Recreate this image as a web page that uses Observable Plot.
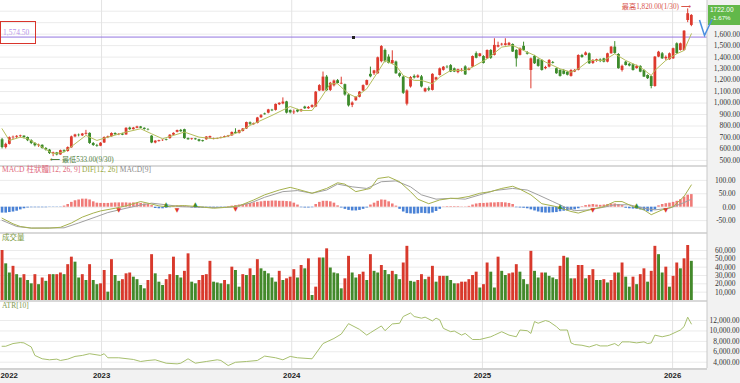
<!DOCTYPE html>
<html>
<head>
<meta charset="utf-8">
<script src="https://cdn.jsdelivr.net/npm/d3@7"></script>
<script src="https://cdn.jsdelivr.net/npm/@observablehq/plot@0.6"></script>
<style>
html, body { margin:0; padding:0; background:#fff; overflow:hidden; }
#wrap { position:relative; width:740px; height:383px; overflow:hidden; }
.bg { position:absolute; background:#f2f2f2; }
#charts { position:absolute; left:0; top:0; width:740px; }
#charts svg { display:block; }
.lbl { position:absolute; font-family:"Liberation Serif","Noto Sans CJK TC",serif; font-size:7.5px; line-height:1; white-space:nowrap; }
</style>
</head>
<body>
<div id="wrap">
  <div class="bg" style="left:707px;top:0;width:33px;height:383px"></div>
  <div class="bg" style="left:0;top:368px;width:740px;height:15px"></div>
  <div id="charts"></div>
  <div id="overlay"></div>
</div>
<script>
// ---------- weekly candles (first week ending 2022-06-24) ----------
const open = [
680,612,640,698,702,708,712,700,672,648, 628,632,604,590,560,566,548,585,578,610,
705,720,714,728,736,648,630,624,652,698, 706,735,724,730,722,782,768,780,792,780,
770,712,652,664,672,682,690,720,745,762, 768,690,682,688,680,672,680,696,684,686,
692,700,706,714,745,735,752,774,828,812, 822,872,905,912,938,936,985,992,1010,935,
915,938,925,965,950,962,965,1105,1105,1226, 1110,1150,1195,1165,1160,1070,980,1020,1050,1105,
1155,1250,1255,1255,1360,1458,1400,1343,1357,1255, 1226,990,1140,1232,1220,1228,1098,1125,1110,1200,
1240,1285,1312,1326,1298,1265,1275,1315,1285,1313, 1430,1405,1405,1385,1458,1415,1487,1506,1502,1502,
1510,1458,1415,1494,1436,1284,1406,1377,1371,1299, 1313,1352,1299,1284,1280,1268,1232,1270,1284,1414,
1415,1429,1345,1365,1375,1385,1356,1429,1487,1423, 1284,1356,1338,1333,1300,1319,1284,1240,1230,1144,
1400,1429,1385,1377,1385,1516,1458,1458,1719,1676];
const high = [
692,650,705,712,716,720,714,704,680,656, 642,636,612,596,572,570,590,592,618,712,
728,730,735,762,740,656,640,655,705,712, 740,740,734,736,785,790,788,798,796,784,
776,716,672,676,680,686,724,740,764,770, 772,696,692,692,684,676,708,712,694,694,
704,712,718,748,776,764,778,834,835,826, 875,900,912,945,945,992,1002,1045,1015,940,
940,945,945,972,970,985,1100,1160,1270,1240, 1180,1200,1205,1225,1165,1080,1010,1055,1100,1158,
1200,1313,1285,1400,1500,1470,1420,1455,1365,1262, 1235,1115,1230,1245,1245,1240,1130,1140,1255,1225,
1305,1318,1325,1335,1305,1295,1300,1325,1305,1410, 1445,1432,1412,1462,1465,1560,1530,1520,1560,1528,
1515,1465,1480,1530,1448,1392,1415,1385,1378,1320, 1378,1362,1305,1290,1292,1275,1290,1292,1420,1424,
1445,1436,1378,1382,1385,1390,1434,1492,1535,1430, 1330,1362,1345,1340,1330,1325,1290,1246,1236,1405,
1450,1440,1410,1436,1478,1524,1522,1630,1820,1770];
const low = [
600,600,635,680,690,695,688,664,638,618, 614,598,582,552,533,540,545,568,572,606,
698,705,708,720,640,622,615,620,648,690, 702,718,716,716,720,762,765,776,776,764,
758,646,645,660,666,670,686,714,740,745, 684,676,676,676,660,660,676,690,680,682,
688,698,700,710,730,730,748,770,805,806, 818,866,895,906,925,930,978,985,905,905,
900,915,920,945,945,955,960,1100,1100,1100, 1100,1140,1165,1160,1060,965,960,1015,1045,1100,
1150,1220,1240,1250,1350,1350,1340,1335,1250,1220, 1075,975,1130,1210,1215,1132,1090,1100,1105,1195,
1235,1278,1300,1265,1265,1255,1270,1240,1280,1308, 1385,1400,1340,1380,1380,1410,1480,1496,1496,1495,
1440,1313,1410,1452,1418,1124,1336,1312,1278,1290, 1306,1340,1250,1226,1245,1236,1226,1265,1280,1390,
1410,1336,1336,1355,1352,1350,1350,1425,1425,1295, 1270,1322,1315,1278,1295,1264,1222,1205,1124,1138,
1395,1380,1370,1372,1380,1425,1452,1452,1700,1665];
const close = [
612,640,698,702,710,714,700,672,648,628, 634,604,590,560,566,548,585,575,612,705,
722,716,730,736,648,630,624,650,700,706, 735,724,728,720,780,768,782,792,780,770,
766,652,668,672,676,676,720,736,760,750, 690,680,688,680,666,664,704,708,690,690,
700,708,714,744,735,760,774,830,815,822, 870,890,898,940,932,988,998,1008,912,915,
922,922,940,950,962,978,1095,1152,1226,1108, 1172,1192,1170,1172,1070,975,1000,1050,1095,1152,
1196,1228,1280,1394,1492,1360,1345,1370,1255,1232, 1085,1105,1222,1218,1236,1140,1124,1112,1250,1220,
1298,1312,1308,1270,1270,1290,1285,1245,1298,1405, 1390,1428,1345,1458,1390,1502,1500,1512,1516,1520,
1444,1385,1473,1458,1425,1385,1342,1319,1284,1310, 1371,1345,1255,1232,1250,1242,1284,1284,1414,1396,
1436,1342,1371,1377,1362,1356,1429,1487,1432,1299, 1320,1327,1322,1284,1318,1269,1226,1212,1144,1400,
1443,1385,1398,1429,1473,1430,1516,1626,1778,1763];

// 10-week moving average, read at sampled weeks
const maWeek  = [0,2,5,7,11,14,17,20,23,26,29,34,38,41,44,47,50,54,58,61,65,68,74,79,82,85,87,90,92,95,97,100,103,105,108,110,113,115,118,120,123,127,129,133,137,140,143,146,149,153,156,158,161,165,168,171,175,178,179,182,185,187,189];
const maValue = [776,674,703,689,616,558,572,645,718,674,703,747,776,732,689,718,747,703,689,703,747,805,892,970,935,935,1022,1168,1168,1081,1051,1124,1269,1371,1327,1240,1197,1197,1168,1226,1284,1284,1313,1385,1487,1502,1458,1415,1357,1298,1269,1298,1371,1371,1429,1371,1313,1240,1284,1371,1429,1458,1603];

// ---------- MACD ----------
const macdHist = [
-22,-22,-20,-18,-15,-10,-6,-3,-2,-2, -2,-2,-2,-1,-1,-1,-1,4,10,18,
24,27,30,30,27,20,15,14,14,14, 15,16,16,16,16,15,16,15,14,12,
10,6,-5,-6,-6,-4,-2,3,5,5, 4,2,-3,-4,-4,-5,-5,-4,-4,-3,
-2,-1,2,4,6,8,10,12,14,16, 18,20,22,22,23,23,22,22,21,20,
15,8,-2,-3,-3,-2,10,18,22,22, 20,15,5,-3,-8,-12,-14,-14,-12,-8,
-3,8,15,22,27,26,20,12,4,-8, -18,-24,-25,-26,-25,-23,-24,-25,-22,-16,
-8,1,2,2,2,2,1,1,3,8, 12,14,14,15,16,16,17,17,16,14,
10,-2,-3,-4,-6,-10,-14,-18,-21,-22, -22,-21,-20,-17,-15,-14,-12,-10,-6,2,
6,8,10,8,7,8,10,12,12,10, 6,-4,-6,-7,-8,-10,-13,-17,-18,-10,
5,10,13,15,18,22,28,38,45,47];
const difWeek  = [0,3,5,8,13,16,19,22,25,27,31,34,38,40,43,45,48,50,54,58,61,65,69,72,76,79,81,85,89,92,94,97,100,101,103,106,109,112,114,117,120,123,125,128,131,134,137,140,142,145,148,152,156,158,161,165,168,170,173,176,178,181,184,187,189];
const difValue = [-41,-62,-72,-78,-78,-75,-59,-37,-22,-14,-4,5,21,15,5,2,5,6,2,-4,-1,5,27,46,64,74,67,52,70,91,86,58,67,70,107,113,95,58,30,13,27,33,33,40,52,58,70,78,67,46,13,2,-16,-22,-10,2,21,21,2,-10,-28,-10,2,40,83];
const sigWeek  = [0,4,8,17,21,26,29,34,38,41,45,49,54,59,63,68,72,77,81,85,89,92,96,100,104,108,112,115,119,123,127,131,135,140,144,147,151,155,157,161,165,168,172,176,179,183,187,189];
const sigValue = [-49,-72,-78,-77,-59,-35,-20,-4,8,15,9,2,0,-1,0,15,37,58,62,52,64,86,76,70,95,98,76,46,30,33,30,46,62,70,64,46,21,-4,-13,-10,0,9,9,-4,-10,-4,17,30];
const buyWeek  = [45,53,153,174];
const buyValue = [11,12,5,9];
const sellWeek  = [32,48,64,162,182];
const sellValue = [-12,-12,-8,-10,-10];

// ---------- volume ----------
const volume = [
60000,44000,33000,41000,31000,27000,31000,24000,20000,31000, 19000,27000,23000,31000,31000,31000,33000,31000,43000,52000,
46000,27000,31000,24000,43000,24000,19000,20000,36000,10000, 49000,30000,23000,25000,32000,33000,28000,25000,18000,14000,
24000,55000,32000,22000,18000,25000,31000,52000,30000,27000, 35000,56000,22000,20000,24000,30000,31000,47000,22000,21000,
20000,24000,19000,40000,36000,16000,31000,30000,38000,30000, 49000,38000,35000,32000,27000,22000,35000,24000,26000,28000,
37000,27000,42000,38000,50000,6000,16000,51000,51000,62000, 39000,33000,32000,14000,26000,53000,33000,27000,31000,34000,
24000,55000,35000,33000,42000,36000,31000,35000,31000,25000, 45000,65000,23000,22000,24000,31000,25000,28000,41000,22000,
29000,29000,29000,24000,20000,20000,22000,22000,25000,30000, 34000,15000,19000,45000,34000,15000,52000,35000,30000,32000,
33000,43000,34000,25000,19000,59000,35000,27000,33000,33000, 29000,27000,25000,41000,53000,51000,26000,26000,42000,42000,
26000,30000,37000,24000,24000,25000,21000,24000,33000,33000, 45000,28000,16000,28000,19000,31000,38000,22000,35000,65000,
55000,33000,40000,16000,29000,45000,38000,50000,66000,47000];
const volumeSide = ("RGGRGGRGGR" + "GRGRGRRGRR" + "GGRGRGGRRG" + "RGGRRRGGGG" + "RRGGGRRRG" +
  "GRRGGRRRRGGGRGRGGRGRGRGGGGGRGR" + "R" + "RGRGRGRRGRGGGGRRGGRRGR" +
  "GGRGGRGGRRGGRRGRRGRRGGGRRRRRRGRRGGRGGRRRGGGRGGRGG" + "G" +
  "GRRGGRRRGRRGGRGRRGRGGRGRRGRRGGRGRRGRRG").split("");

// ---------- ATR[10] ----------
const atrWeek  = [0,1,3,5,6,8,9,11,13,15,16,18,20,22,24,27,28,29,32,36,38,40,42,45,48,49,51,53,56,59,60,62,64,67,70,72,75,77,79,81,85,88,91,93,95,98,100,101,104,105,107,109,110,112,113,115,116,118,119,120,121,123,124,126,127,129,131,134,135,137,139,141,142,144,145,146,147,149,150,152,153,155,156,157,159,161,163,164,166,168,169,170,172,174,176,177,178,179,181,183,186,187,188,189];
const atrValue = [7060,7060,7580,7775,7710,6930,5300,4655,4460,4590,4330,4590,5110,5300,5630,5300,5630,4850,4850,4525,4135,4330,4460,3810,3680,3810,4655,3810,4135,4460,4330,3355,3985,4135,4330,5175,4850,4460,5110,4850,4655,7580,8555,9400,11400,10310,9205,9660,10960,10050,11350,11480,12780,13450,12780,12455,12650,11935,12455,12130,10505,9855,9985,9205,9530,8360,8360,8880,9205,9855,9205,8880,10180,10050,9530,11805,11480,12000,11805,10830,10180,10180,7710,7385,7255,6930,7385,7125,7125,7580,7125,7905,7905,7710,7905,7580,7710,9205,8880,9205,10180,10830,12650,11350];

// ---------- axes / labels ----------
const priceGrid = [500,600,700,800,900,1000,1100,1200,1300,1400,1500,1600,1700,1800];
const priceLabels = [500,600,700,800,900,1000,1100,1200,1300,1400,1500,1600];
const macdTicks = [-50,0,50,100];
const volTicks = [10000,20000,30000,40000,50000,60000];
const atrTicks = [4000,6000,8000,10000,12000];
const yearLabels = ["2022","2023","2024","2025","2026"];
const refLevel = 1574.5;
const lastQuote = 1722;
const lastChangePct = -1.67;

// ---------- build ----------
const W = 740, MR = 33;
const RED = "#dd3a2e", GREEN = "#3d8b2b";
const SERIF = "'Liberation Serif','Noto Sans CJK TC',serif";
const xDomain = [new Date(Date.UTC(2022,5,21)), new Date(Date.UTC(2026,2,9))];
const start = new Date(Date.UTC(2022,5,24));
const dates = close.map((_, i) => d3.utcDay.offset(start, 7 * i));
const candles = dates.map((date, i) => ({date, o: open[i], h: high[i], l: low[i], c: close[i]}));
const candleColor = d => d.c >= d.o ? RED : GREEN;
const sparse = (wk, val) => wk.map((k, j) => ({date: dates[k], v: val[j]}));
const years = yearLabels.map(y => ({label: y, date: new Date(Date.UTC(+y, 0, 1))}));
const gridYears = years.filter(d => d.date > xDomain[0]).map(d => d.date);

const fmtNeg = f => d => (d < 0 ? "-" : "") + f(Math.abs(d));
const f2 = fmtNeg(d3.format(",.2f"));
const f0 = d3.format(",.0f");

const xOpt = {type: "utc", domain: xDomain, axis: null};
const base = (h, y, marks, mb = 0) => Plot.plot({
  width: W, height: h, marginLeft: 0, marginRight: MR, marginTop: 0, marginBottom: mb,
  style: {background: "transparent", overflow: "hidden", fontFamily: SERIF},
  x: xOpt, y: {...y, axis: null}, marks
});
const grid = ticks => Plot.ruleY(ticks, {stroke: "#ebebeb"});
const vgrid = Plot.ruleX(gridYears, {stroke: "#e3e3e3"});
const edge = Plot.ruleX([xDomain[1]], {stroke: "#c8c8c8", dx: -0.5});
const tickText = (ticks, fmt, dx) => Plot.text(ticks, {y: d => d, text: fmt, frameAnchor: "right", textAnchor: "end", dx, fontSize: 7.5, fill: "#333", fontFamily: SERIF});
const sep = v => Plot.ruleY([v], {stroke: "#b3b3b3", dy: 0.5});

// price panel
const lowIdx = d3.minIndex(low), highIdx = d3.maxIndex(high);
const md = d3.utcFormat("%-m/%-d");
const pricePlot = base(165, {domain: [456, 1893]}, [
  grid(priceGrid), vgrid,
  Plot.ruleY([refLevel], {stroke: "#9476e0"}),
  Plot.ruleX(candles, {x: "date", y1: "l", y2: "h", stroke: candleColor, strokeWidth: 1}),
  Plot.ruleX(candles, {x: "date", y1: "o", y2: "c", stroke: candleColor, strokeWidth: 2.8}),
  Plot.line(sparse(maWeek, maValue), {x: "date", y: "v", stroke: "#b5be5c", strokeWidth: 1}),
  Plot.text([candles[lowIdx]], {x: "date", y: "l", text: d => "⟵ 最低" + d3.format(".2f")(d.l) + "(" + md(d.date) + ")",
    textAnchor: "start", dx: -3, dy: 3.5, fontSize: 7.2, fill: "#4f7d3c", fontFamily: SERIF}),
  Plot.text([candles[highIdx]], {x: "date", y: "h", text: d => "最高" + d3.format(",.2f")(d.h) + "(" + md(d.date) + ") ⟶",
    textAnchor: "end", dx: 3, dy: -2.5, fontSize: 7.2, fill: "#d8544c", fontFamily: SERIF}),
  tickText(priceLabels, f2, 32.5), edge
]);

// MACD panel
const macdPlot = base(67, {domain: [-94.4, 155.5]}, [
  grid(macdTicks), vgrid,
  Plot.ruleX(dates.map((date, i) => ({date, v: macdHist[i]})), {x: "date", y1: 0, y2: "v",
    stroke: d => d.v >= 0 ? "#f07b78" : "#4a82d6", strokeWidth: 2.6}),
  Plot.line(sparse(sigWeek, sigValue), {x: "date", y: "v", stroke: "#a0a0a0", strokeWidth: 1}),
  Plot.line(sparse(difWeek, difValue), {x: "date", y: "v", stroke: "#a6b24e", strokeWidth: 1}),
  Plot.text(sparse(buyWeek, buyValue), {x: "date", y: "v", text: () => "▲", fill: GREEN, fontSize: 6, fontFamily: "DejaVu Sans"}),
  Plot.text(sparse(sellWeek, sellValue), {x: "date", y: "v", text: () => "▼", fill: RED, fontSize: 6, fontFamily: "DejaVu Sans"}),
  tickText(macdTicks, f2, 28), sep(155.5), edge
]);

// volume panel
const volPlot = base(68, {domain: [0, 81600]}, [
  grid(volTicks), vgrid,
  Plot.ruleX(dates.map((date, i) => ({date, v: volume[i], s: volumeSide[i]})), {x: "date", y1: 0, y2: "v",
    stroke: d => d.s === "R" ? "#d8392c" : "#43892b", strokeWidth: 2.9}),
  tickText(volTicks, f0, 28), sep(81600), edge
]);

// ATR panel + time axis
const first = years.filter(d => d.date <= xDomain[0]);
const rest = years.filter(d => d.date > xDomain[0]);
const atrPlot = base(83, {domain: [2790, 15850]}, [
  grid(atrTicks), vgrid,
  Plot.line(sparse(atrWeek, atrValue), {x: "date", y: "v", stroke: "#a7bf6e", strokeWidth: 1}),
  tickText(atrTicks, f2, 32), sep(15850), sep(2790), edge,
  Plot.text(first, {x: () => xDomain[0], text: "label", frameAnchor: "bottom", textAnchor: "start", dy: 9.5,
    fontWeight: "bold", fontSize: 7.8, fill: "#222", fontFamily: "'Liberation Sans',sans-serif"}),
  Plot.text(rest, {x: "date", text: "label", frameAnchor: "bottom", dy: 9.5,
    fontWeight: "bold", fontSize: 7.8, fill: "#222", fontFamily: "'Liberation Sans',sans-serif"})
], 15);

const charts = document.getElementById("charts");
[pricePlot, macdPlot, volPlot, atrPlot].forEach(p => charts.appendChild(p));

// overlay: titles, reference box, quote box
const ov = document.getElementById("overlay");
ov.innerHTML = `
<div style="position:absolute;left:0;top:21px;width:36px;height:23px;border:1.3px solid #d9342b;box-sizing:border-box"></div>
<div class="lbl" style="left:3px;top:29px;color:#b893ea;font-size:7.5px">${d3.format(",.2f")(refLevel)}</div>
<div style="position:absolute;left:351.5px;top:35.5px;width:3px;height:3px;background:#222"></div>
<div style="position:absolute;left:708px;top:5px;width:32px;height:20px;background:#62b84a"></div>
<div class="lbl" style="left:710px;top:6.5px;color:#fff;font-size:6.5px;font-family:'Liberation Sans',sans-serif">${d3.format(".2f")(lastQuote)}</div>
<div class="lbl" style="left:711px;top:15px;color:#fff;font-size:6.2px;font-family:'Liberation Sans',sans-serif">${(lastChangePct < 0 ? "-" : "+") + Math.abs(lastChangePct).toFixed(2)}%</div>
<svg style="position:absolute;left:697px;top:17px" width="18" height="21"><polyline points="2.5,3 7.5,18.5 15,2.5" fill="none" stroke="#4a8fe0" stroke-width="1.5"/></svg>
<div class="lbl" style="left:2px;top:166px"><span style="color:#e0687a">MACD 柱狀體[12, 26, 9]</span> <span style="color:#98a843">DIF[12, 26]</span> <span style="color:#8a8a8a">MACD[9]</span></div>
<div class="lbl" style="left:2px;top:233.5px;color:#7c9a45">成交量</div>
<div class="lbl" style="left:2px;top:302px;color:#7f9a50">ATR[10]</div>
`;
</script>
</body>
</html>
